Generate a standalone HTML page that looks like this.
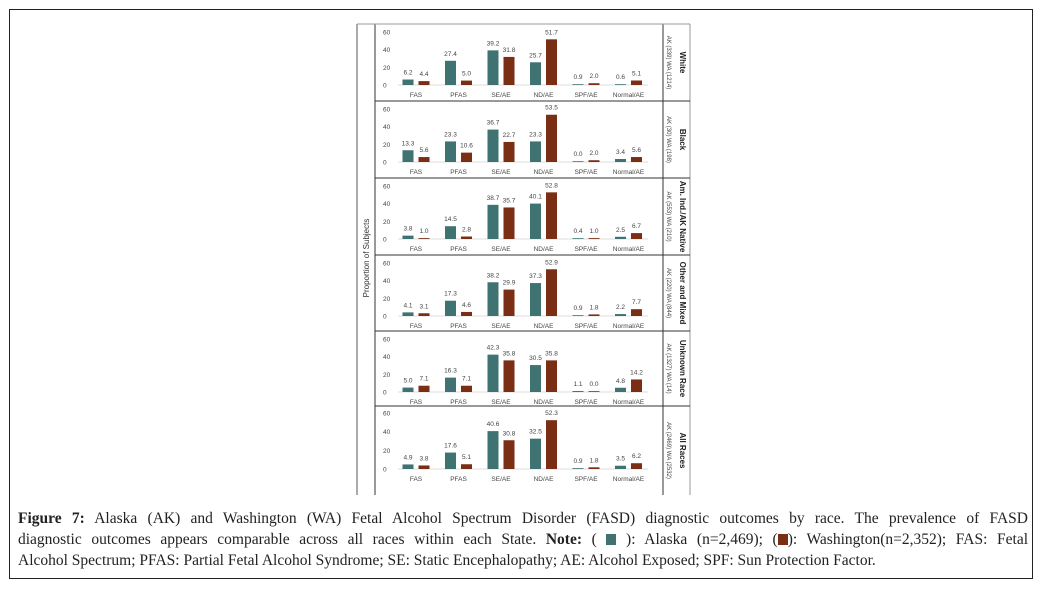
<!DOCTYPE html>
<html><head><meta charset="utf-8">
<style>
body{margin:0;width:1043px;height:589px;background:#fff;overflow:hidden;position:relative;font-family:"Liberation Sans",sans-serif}
#frame{position:absolute;left:9px;top:9px;width:1024px;height:570px;border:1px solid #222;box-sizing:border-box}
#cap{position:absolute;left:18px;top:508px;width:1010px;font-family:"Liberation Serif",serif;font-size:15.5px;color:#222;line-height:21px}
#cap div{text-align:justify;text-align-last:justify;white-space:nowrap}
#cap div.last{text-align-last:left}
.sq{display:inline-block;width:10px;height:11px;vertical-align:-1px}
</style></head><body>
<div id="frame"></div>
<svg id="chart" width="1043" height="500" style="position:absolute;left:0;top:0"></svg>
<div id="cap">
<div><b>Figure 7:</b> Alaska (AK) and Washington (WA) Fetal Alcohol Spectrum Disorder (FASD) diagnostic outcomes by race. The prevalence of FASD</div>
<div>diagnostic outcomes appears comparable across all races within each State. <b>Note:</b> ( <span class="sq" style="background:#3f7372"></span> ): Alaska (n=2,469); (<span class="sq" style="background:#7a2e14"></span>): Washington(n=2,352); FAS: Fetal</div>
<div class="last">Alcohol Spectrum; PFAS: Partial Fetal Alcohol Syndrome; SE: Static Encephalopathy; AE: Alcohol Exposed; SPF: Sun Protection Factor.</div>
</div>
<script>
const categories=["FAS","PFAS","SE/AE","ND/AE","SPF/AE","Normal/AE"];
const races=["White","Black","Am. Ind./AK Native","Other and Mixed","Unknown Race","All Races"];
const sampleLabels=["AK (339)  WA (1214)","AK (30)  WA (198)","AK (553)  WA (210)","AK (220)  WA (844)","AK (1327)  WA (14)","AK (2469)  WA (2532)"];
const akValues=[[6.2,27.4,39.2,25.7,0.9,0.6],[13.3,23.3,36.7,23.3,0.0,3.4],[3.8,14.5,38.7,40.1,0.4,2.5],[4.1,17.3,38.2,37.3,0.9,2.2],[5.0,16.3,42.3,30.5,1.1,4.8],[4.9,17.6,40.6,32.5,0.9,3.5]];
const waValues=[[4.4,5.0,31.8,51.7,2.0,5.1],[5.6,10.6,22.7,53.5,2.0,5.6],[1.0,2.8,35.7,52.8,1.0,6.7],[3.1,4.6,29.9,52.9,1.8,7.7],[7.1,7.1,35.8,35.8,0.0,14.2],[3.8,5.1,30.8,52.3,1.8,6.2]];
const yTicks=[0,20,40,60];
const svg=document.getElementById('chart');const NS='http://www.w3.org/2000/svg';
function mk(t,a,p){const e=document.createElementNS(NS,t);for(const k in a)e.setAttribute(k,a[k]);(p||svg).appendChild(e);return e;}
const panelTops=[24,101,178,255,331,406,495];
const xCat=i=>416+i*42.5;
let l;
l=mk('line',{x1:357,y1:24,x2:357,y2:495,stroke:'#aaa','stroke-width':2});

l=mk('line',{x1:375,y1:24,x2:375,y2:495,stroke:'#333','stroke-width':1});

l=mk('line',{x1:663,y1:24,x2:663,y2:495,stroke:'#333','stroke-width':1});

l=mk('line',{x1:690,y1:24,x2:690,y2:495,stroke:'#999','stroke-width':1});

l=mk('line',{x1:357,y1:24,x2:690,y2:24,stroke:'#999','stroke-width':1});

let t=mk('text',{x:0,y:0,transform:'translate(369,258) rotate(-90)','text-anchor':'middle','font-size':8,fill:'#333'});
t.textContent='Proportion of Subjects';

races.forEach((race,p)=>{
  const top=panelTops[p];const last=p===5;
  const y0=top+(last?63:61), scale=(last?56:53)/60;
  const y=v=>y0-v*scale;
  const g=mk('g',{});
  
  
  if(p>0){const d=mk('line',{x1:375,y1:top,x2:690,y2:top,stroke:'#333','stroke-width':1},g);
    }
  yTicks.forEach(v=>{const tt=mk('text',{x:383,y:y(v)+2.5,'font-size':6.5,fill:'#444'},g);tt.textContent=v;
    });
  const base=mk('line',{x1:398,y1:y0,x2:648,y2:y0,stroke:'#ddd','stroke-width':1},g);
  
  categories.forEach((c,i)=>{
    const cx=xCat(i);
    [[akValues[p][i],cx-8,'#3f7372','ak'],[waValues[p][i],cx+8,'#7a2e14','wa']].forEach(([v,bx,col,s])=>{
      const h=Math.max(v*scale,0.8);
      const r=mk('rect',{x:bx-5.5,y:y0-h,width:11,height:h,fill:col},g);
      
      
      const vl=mk('text',{x:bx,y:y0-h-5,'text-anchor':'middle','font-size':6.5,fill:'#444'},g);
      vl.textContent=v.toFixed(1);
      
    });
    const cl=mk('text',{x:cx,y:y0+12,'text-anchor':'middle','font-size':6.5,fill:'#444'},g);
    cl.textContent=c;
    
  });
  const mid=(top+panelTops[p+1])/2;
  const rl=mk('text',{x:0,y:0,transform:`translate(680,${mid}) rotate(90)`,'text-anchor':'middle','font-size':8,'font-weight':'bold',fill:'#222'},g);
  rl.textContent=race;
  
  const sl=mk('text',{x:0,y:0,transform:`translate(667,${mid}) rotate(90)`,'text-anchor':'middle','font-size':6,fill:'#444','xml:space':'preserve'},g);
  sl.textContent=sampleLabels[p];
  
});
</script>
</body></html>
